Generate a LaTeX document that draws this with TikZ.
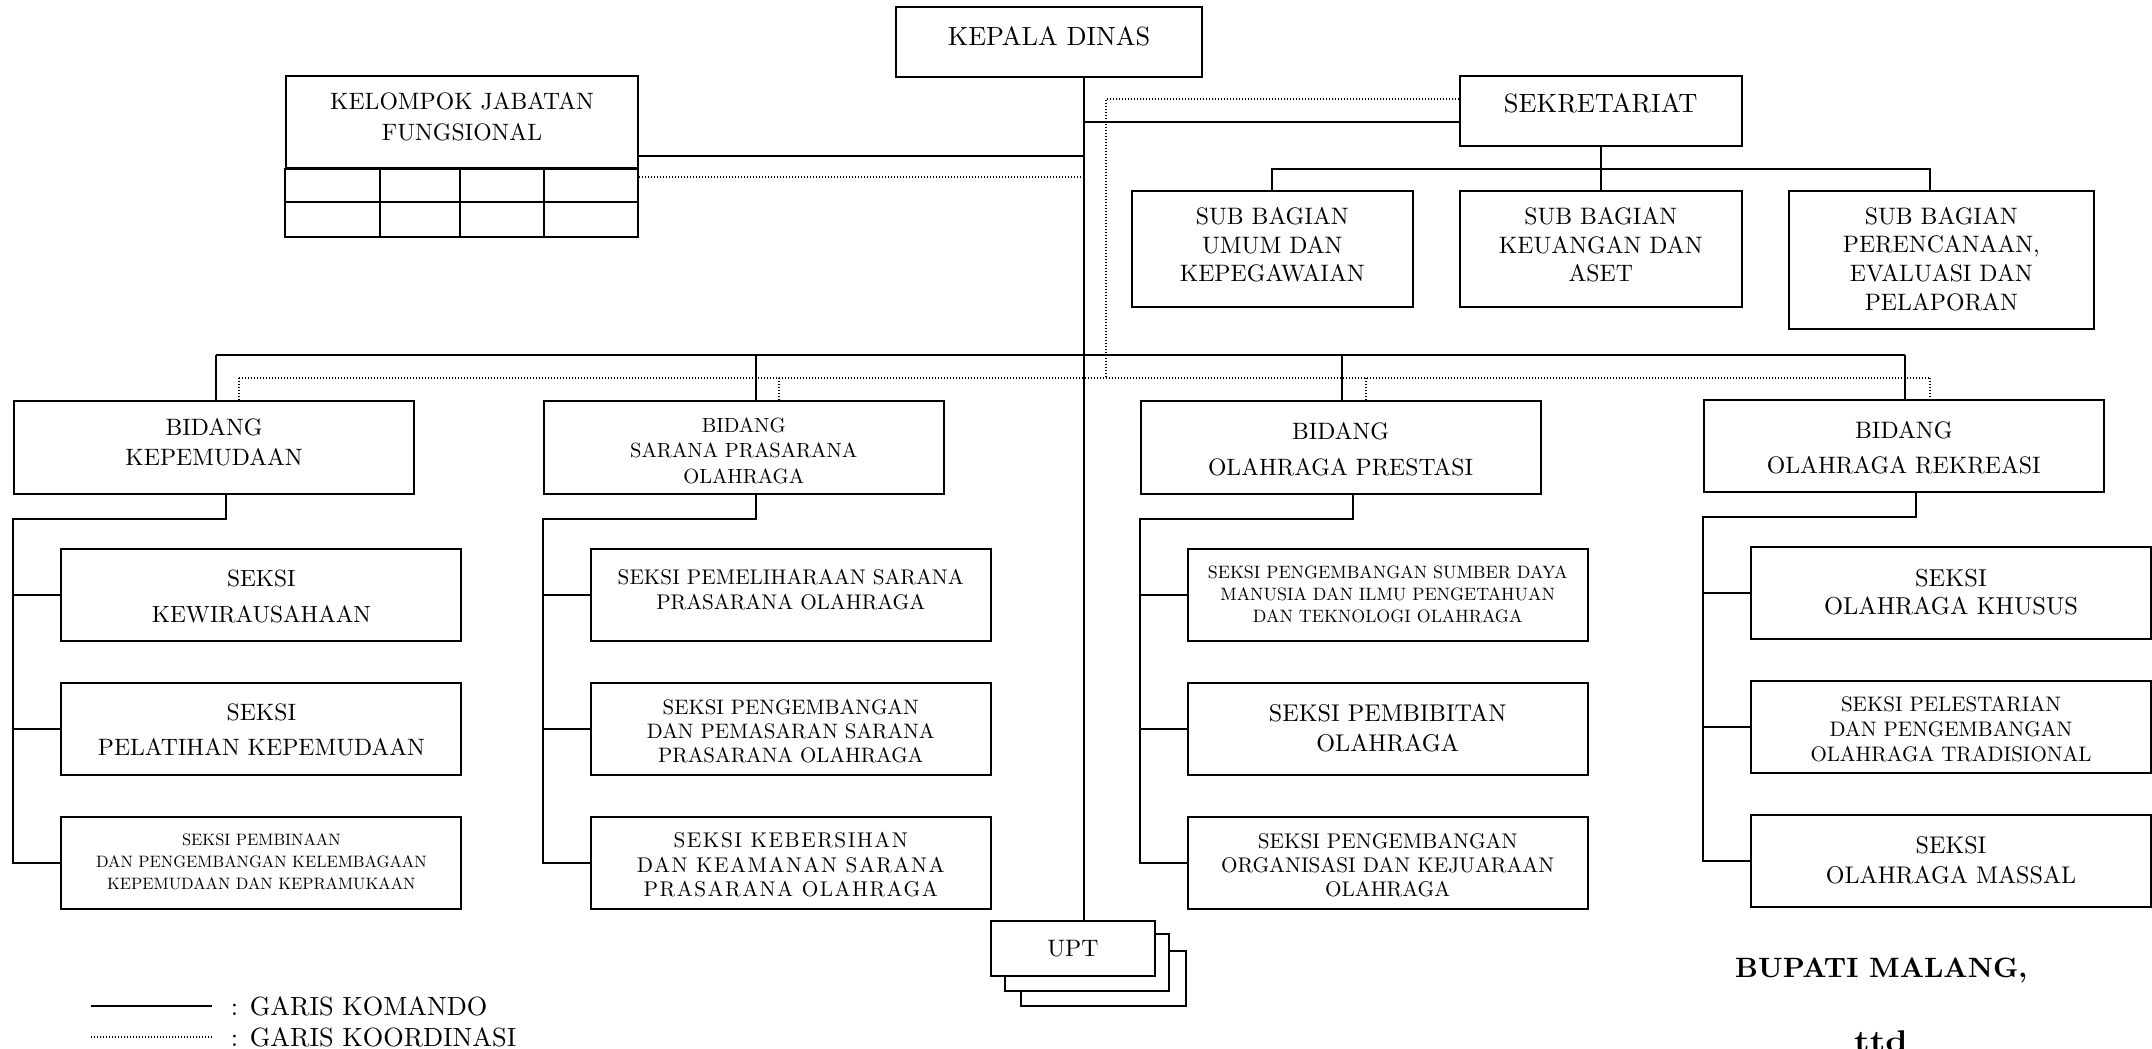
\documentclass[tikz,border=0pt]{standalone}
\usepackage{fontspec}
\setmainfont{lmroman10-regular.otf}[BoldFont=lmroman10-bold.otf]
\newfontfamily\lsfont{lmroman10-regular.otf}[LetterSpace=7]
\newcommand\fsz[2]{\fontsize{#1}{#2}\selectfont}
\begin{document}
\begin{tikzpicture}[x=1pt,y=-1pt,
  box/.style={draw, line width=2pt, inner sep=0pt, fill=white},
  bid/.style={box, minimum width=400, minimum height=93},
  sek/.style={box, minimum width=400, minimum height=92},
  txt/.style={inner sep=0pt, align=center},
  kom/.style={line width=2pt},
  koord/.style={line width=1.2pt, dash pattern=on 1.2pt off 1.8pt},
  lbl/.style={inner sep=0pt}]
\useasboundingbox (0,0) rectangle (2152,1049);

% top level
\node[box, minimum width=306, minimum height=70] (kepala) at (1049,42) {};
\node[txt, font=\fsz{26.3}{31}] (kepalaT) at ([yshift=5.3pt]kepala.center) {KEPALA DINAS};

\node[box, minimum width=352, minimum height=92] (kjf) at (462,122) {};
\node[txt, font=\fsz{23.7}{31}] (kjfT) at ([yshift=5pt]kjf.center) {KELOMPOK JABATAN\\FUNGSIONAL};
\draw[line width=2pt] (kjf.south west) rectangle (638,237);
\draw[line width=2pt] (286,202) -- (638,202);
\draw[line width=2pt] (379.5,168) -- (379.5,237) (460,168) -- (460,237) (544,168) -- (544,237);

\node[box, minimum width=281.5, minimum height=70] (sekr) at (1600.75,111) {};
\node[txt, font=\fsz{26.5}{31}] (sekrT) at ([yshift=7.7pt]sekr.center) {SEKRETARIAT};
\node[box, minimum width=281.5, minimum height=116] (sb1) at (1272.25,249) {};
\node[txt, font=\fsz{23.8}{28.7}] (sb1T) at ([yshift=4pt]sb1.center) {SUB BAGIAN\\UMUM DAN\\KEPEGAWAIAN};
\node[box, minimum width=281.5, minimum height=116] (sb2) at (1600.75,249) {};
\node[txt, font=\fsz{23.8}{28.7}] (sb2T) at ([yshift=4pt]sb2.center) {SUB BAGIAN\\KEUANGAN DAN\\ASET};
\node[box, minimum width=305.4, minimum height=138] (sb3) at (1941.3,260) {};
\node[txt, font=\fsz{23.8}{28.7}] (sb3T) at ([yshift=1pt]sb3.center) {SUB BAGIAN\\PERENCANAAN,\\EVALUASI DAN\\PELAPORAN};

% bidang
\node[bid] (b1) at (214,447.8) {};
\node[txt, font=\fsz{23.7}{30}] (b1T) at ([yshift=6pt]b1.center) {BIDANG\\KEPEMUDAAN};
\node[bid] (b2) at (743.75,447.8) {};
\node[txt, font=\fsz{20.5}{25.2}] (b2T) at ([yshift=-3pt]b2.center) {BIDANG\\SARANA PRASARANA\\OLAHRAGA};
\node[bid] (b3) at (1340.6,447.8) {};
\node[txt, font=\fsz{23.7}{36}] (b3T) at ([yshift=-1pt]b3.center) {BIDANG\\OLAHRAGA PRESTASI};
\node[bid, minimum height=92] (b4) at (1903.75,446) {};
\node[txt, font=\fsz{23.8}{35}] (b4T) at ([yshift=-2pt]b4.center) {BIDANG\\OLAHRAGA REKREASI};

% seksi
\node[sek] (c11) at (261.35,594.85) {};
\node[txt, font=\fsz{23.4}{36}] (c11T) at ([yshift=-1.6pt]c11.center) {SEKSI\\KEWIRAUSAHAAN};
\node[sek] (c12) at (261.35,728.55) {};
\node[txt, font=\fsz{23.7}{35}] (c12T) at ([yshift=-1.5pt]c12.center) {SEKSI\\PELATIHAN KEPEMUDAAN};
\node[sek] (c13) at (261.35,862.5) {};
\node[txt, font=\fsz{16.5}{22}] (c13T) at ([yshift=1pt]c13.center) {SEKSI PEMBINAAN\\DAN PENGEMBANGAN KELEMBAGAAN\\KEPEMUDAAN DAN KEPRAMUKAAN};

\node[sek] (c21) at (790.75,594.85) {};
\node[txt, font=\fsz{21.2}{25.5}] (c21T) at ([yshift=5pt]c21.center) {SEKSI PEMELIHARAAN SARANA\\PRASARANA OLAHRAGA};
\node[sek] (c22) at (790.75,728.55) {};
\node[txt, font=\fsz{20.9}{24.2}] (c22T) at ([yshift=-2.5pt]c22.center) {SEKSI PENGEMBANGAN\\DAN PEMASARAN SARANA\\PRASARANA OLAHRAGA};
\node[sek] (c23) at (790.75,862.5) {};
\node[txt, font=\lsfont\fsz{21.3}{24.5}] (c23T) at ([yshift=-2.5pt]c23.center) {SEKSI KEBERSIHAN\\DAN KEAMANAN SARANA\\PRASARANA OLAHRAGA};

\node[sek] (c31) at (1387.65,594.85) {};
\node[txt, font=\fsz{17.9}{22}] (c31T) at ([yshift=1pt]c31.center) {SEKSI PENGEMBANGAN SUMBER DAYA\\MANUSIA DAN ILMU PENGETAHUAN\\DAN TEKNOLOGI OLAHRAGA};
\node[sek] (c32) at (1387.65,728.55) {};
\node[txt, font=\fsz{24.2}{30}] (c32T) at (c32.center) {SEKSI PEMBIBITAN\\OLAHRAGA};
\node[sek] (c33) at (1387.65,862.5) {};
\node[txt, font=\fsz{21.2}{24}] (c33T) at ([yshift=-2.5pt]c33.center) {SEKSI PENGEMBANGAN\\ORGANISASI DAN KEJUARAAN\\OLAHRAGA};

\node[sek] (c41) at (1951,593) {};
\node[txt, font=\fsz{24.5}{28.5}] (c41T) at ([yshift=1pt]c41.center) {SEKSI\\OLAHRAGA KHUSUS};
\node[sek] (c42) at (1951,726.65) {};
\node[txt, font=\fsz{21}{25}] (c42T) at ([yshift=-2.4pt]c42.center) {SEKSI PELESTARIAN\\DAN PENGEMBANGAN\\OLAHRAGA TRADISIONAL};
\node[sek] (c43) at (1951,860.6) {};
\node[txt, font=\fsz{24.1}{30}] (c43T) at (c43.center) {SEKSI\\OLAHRAGA MASSAL};

% UPT stack
\node[box, minimum width=165, minimum height=55] (upt3) at (1103.5,978.5) {};
\node[box, minimum width=164, minimum height=57] (upt2) at (1087,962.5) {};
\node[box, minimum width=164, minimum height=55] (upt1) at (1073,948.5) {};
\node[txt, font=\fsz{23.8}{28}] (upt1T) at (upt1.center) {UPT};

% main command line
\coordinate (m) at (1084,0);
\draw[kom] (kepala.south -| m) -- (upt1.north -| m);

% kelompok jabatan
\coordinate (f1) at (1084,156);
\coordinate (f2) at (1084,177);
\draw[kom] (f1 -| kjf.east) -- (f1);
\draw[koord] (f2 -| kjf.east) -- (f2);

% sekretariat
\coordinate (sk) at (1084,122);
\draw[kom] (sk) -- (sk -| sekr.west);
\draw[kom] (sekr.south) -- (sb2.north);
\coordinate (s1) at (1272.25,169);
\coordinate (s3) at (1930,169);
\draw[kom] (sb1.north) -- (s1) -- (s3) -- (s3 |- sb3.north);

% bidang bus
\coordinate (v1) at (216,355);
\coordinate (v2) at (756,355);
\coordinate (v3) at (1342,355);
\coordinate (v4) at (1905,355);
\draw[kom] (v1) -- (v4);
\draw[kom] (v1) -- (v1 |- b1.north);
\draw[kom] (v2) -- (v2 |- b2.north);
\draw[kom] (v3) -- (v3 |- b3.north);
\draw[kom] (v4) -- (v4 |- b4.north);

% coordination lines
\coordinate (dk) at (1106,99);
\coordinate (d1) at (239,378);
\coordinate (d2) at (779,378);
\coordinate (d3) at (1366,378);
\coordinate (d4) at (1930,378);
\draw[koord] (dk -| sekr.west) -- (dk) -- (dk |- d1);
\draw[koord] (d1) -- (d4);
\draw[koord] (d1) -- (d1 |- b1.north);
\draw[koord] (d2) -- (d2 |- b2.north);
\draw[koord] (d3) -- (d3 |- b3.north);
\draw[koord] (d4) -- (d4 |- b4.north);

% bidang -> seksi
\coordinate (h1) at (226,518.7);
\coordinate (h2) at (756,518.7);
\coordinate (h3) at (1353,518.7);
\coordinate (h4) at (1916,516.5);
\draw[kom] (b1.south -| h1) |- (b1.west |- h1) |- (c13.west);
\draw[kom] (b2.south -| h2) |- (b2.west |- h2) |- (c23.west);
\draw[kom] (b3.south -| h3) |- (b3.west |- h3) |- (c33.west);
\draw[kom] (b4.south -| h4) |- (b4.west |- h4) |- (c43.west);
\draw[kom] (c11.west) -- (c11.west -| b1.west);
\draw[kom] (c12.west) -- (c12.west -| b1.west);
\draw[kom] (c21.west) -- (c21.west -| b2.west);
\draw[kom] (c22.west) -- (c22.west -| b2.west);
\draw[kom] (c31.west) -- (c31.west -| b3.west);
\draw[kom] (c32.west) -- (c32.west -| b3.west);
\draw[kom] (c41.west) -- (c41.west -| b4.west);
\draw[kom] (c42.west) -- (c42.west -| b4.west);

% legend
\coordinate (la) at (91,1006);
\coordinate (lb) at (212,1006);
\coordinate (lc) at (91,1037);
\coordinate (ld) at (212,1037);
\draw[kom] (la) -- (lb);
\draw[koord] (lc) -- (ld);
\node[lbl, anchor=west, font=\fsz{26.3}{31}] (lkom) at (230.6,1006) {: GARIS KOMANDO};
\node[lbl, anchor=west, font=\fsz{26.3}{31}] (lkoo) at (230.6,1037) {: GARIS KOORDINASI};

% signature
\node[lbl, anchor=base west, font=\bfseries\fsz{28}{33}] (bup) at (1735,977.5) {BUPATI MALANG,};
\node[lbl, anchor=base, font=\bfseries\fsz{30}{35}] (ttd) at (1881,1051) {\scalebox{1.17}[1]{ttd}};
\end{tikzpicture}
\end{document}
